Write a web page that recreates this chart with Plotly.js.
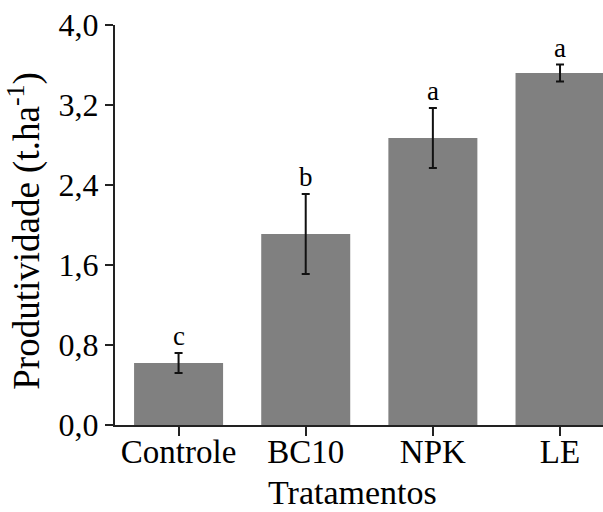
<!DOCTYPE html>
<html>
<head>
<meta charset="utf-8">
<script src="https://cdn.plot.ly/plotly-3.0.1.min.js"></script>
<style>
  html, body { margin: 0; padding: 0; background: #fff; }
  #chart { width: 603px; height: 512px; }
</style>
</head>
<body>
<div id="chart"></div>
<script>
// Produtividade média por tratamento, com barras de erro e letras do teste de médias
const categorias = ['Controle', 'BC10', 'NPK', 'LE'];
const produtividade = [0.62, 1.91, 2.87, 3.52];
const erro = [0.10, 0.40, 0.30, 0.085];
const letras = ['c', 'b', 'a', 'a'];
const yTicks = [0, 0.8, 1.6, 2.4, 3.2, 4.0];
const tituloX = 'Tratamentos';
const tituloY = 'Produtividade (t.ha<sup>-1</sup>)';

const serif = 'Liberation Serif';

const barras = {
  type: 'bar',
  x: categorias,
  y: produtividade,
  width: 0.7,
  marker: { color: '#808080', line: { width: 0 } },
  error_y: {
    type: 'data',
    array: erro,
    visible: true,
    color: '#111',
    thickness: 2,
    width: 4
  },
  hoverinfo: 'none'
};

// letras de significância acima de cada barra de erro
const anotacoes = categorias.map((c, i) => ({
  x: c,
  y: produtividade[i] + erro[i],
  xref: 'x',
  yref: 'y',
  text: letras[i],
  showarrow: false,
  yanchor: 'bottom',
  yshift: 0,
  font: { family: serif, size: 27, color: '#000' }
}));

// títulos dos eixos
anotacoes.push({
  xref: 'paper', yref: 'paper',
  x: 0.486, y: -0.2175,
  xanchor: 'center', yanchor: 'bottom',
  borderpad: 0,
  text: tituloX,
  showarrow: false,
  font: { family: serif, size: 34, color: '#000' }
});
anotacoes.push({
  xref: 'paper', yref: 'paper',
  x: -0.185, y: 0.485,
  xanchor: 'center', yanchor: 'middle',
  textangle: -90,
  text: tituloY,
  showarrow: false,
  font: { family: serif, size: 37, color: '#000' }
});

const layout = {
  width: 603,
  height: 512,
  margin: { l: 115, r: 0, t: 25, b: 87, pad: 0 },
  paper_bgcolor: '#fff',
  plot_bgcolor: '#fff',
  separators: ',.',
  showlegend: false,
  font: { family: serif, color: '#000' },
  xaxis: {
    range: [-0.5, 3.338],
    showline: true,
    linecolor: '#222',
    linewidth: 2,
    ticks: 'outside',
    ticklen: 9,
    tickwidth: 2,
    tickcolor: '#222',
    showgrid: false,
    zeroline: false,
    automargin: false,
    ticklabelstandoff: -13,
    tickfont: { family: serif, size: 33, color: '#000' }
  },
  yaxis: {
    range: [0, 4],
    tickvals: yTicks,
    tickformat: '.1f',
    showline: true,
    linecolor: '#222',
    linewidth: 2,
    ticks: 'outside',
    ticklen: 8,
    tickwidth: 2,
    tickcolor: '#222',
    showgrid: false,
    zeroline: false,
    automargin: false,
    tickfont: { family: serif, size: 32, color: '#000' }
  },
  annotations: anotacoes
};

Plotly.newPlot('chart', [barras], layout, { displayModeBar: false, staticPlot: true });
</script>
</body>
</html>
